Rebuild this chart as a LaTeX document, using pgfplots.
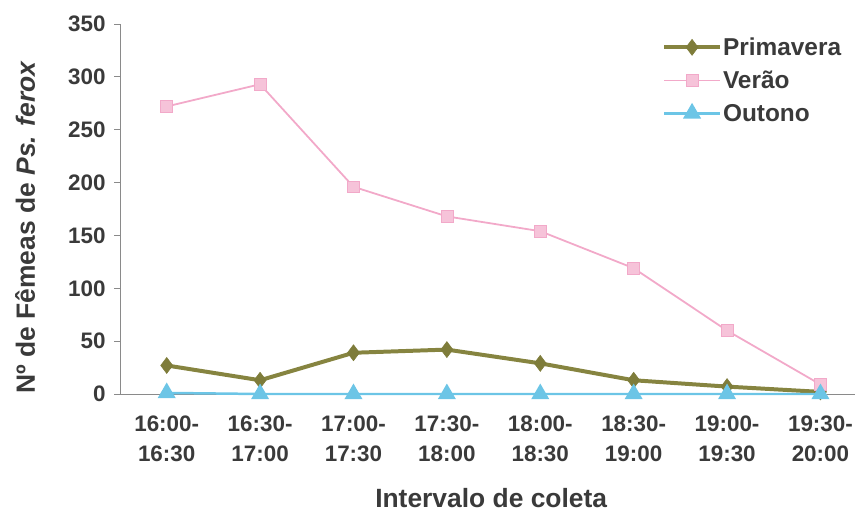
\documentclass[border=0pt]{standalone}
\usepackage{fontspec}
\setmainfont{Liberation Sans}
\usepackage{pgfplots}
\pgfplotsset{compat=1.18}
\definecolor{olv}{HTML}{868440}
\definecolor{olvf}{HTML}{7E7C3A}
\definecolor{pnk}{HTML}{F2A9C9}
\definecolor{blu}{HTML}{6CC5E6}
\definecolor{txt}{HTML}{3A3A3A}
\definecolor{axc}{HTML}{8A8A8A}
\begin{document}
\begin{tikzpicture}
\useasboundingbox (0,0) rectangle (859bp,511bp);
\begin{axis}[
  at={(120bp,117bp)}, anchor=south west,
  scale only axis, width=735bp, height=370bp,
  xmin=-0.5, xmax=7.37, ymin=0, ymax=350,
  axis lines*=left, axis line style={axc, line width=0.8pt},
  ytick={0,50,...,350}, xtick={0,...,7},
  xticklabels={{16:00-\\16:30},{16:30-\\17:00},{17:00-\\17:30},{17:30-\\18:00},{18:00-\\18:30},{18:30-\\19:00},{19:00-\\19:30},{19:30-\\20:00}},
  x tick label style={align=center, font=\fontsize{22.5}{30}\selectfont\bfseries, text=txt, yshift=-12bp},
  y tick label style={font=\fontsize{22.5}{25}\selectfont\bfseries, text=txt, xshift=-5bp},
  /pgf/number format/assume math mode=true,
  major x tick style={draw=none},
  extra x ticks={-0.5,0.5,1.5,2.5,3.5,4.5,5.5,6.5},
  extra x tick labels={},
  extra x tick style={tick style={axc, line width=0.8pt}},
  ytick style={axc, line width=0.8pt}, tick align=outside, major tick length=6bp,
  xlabel={Intervalo de coleta},
  ylabel={Nº de Fêmeas de \textit{Ps. ferox}},
  label style={font=\fontsize{26.5}{30}\selectfont\bfseries, text=txt},
  xlabel style={at={(axis description cs:0.505,-0.28)}, anchor=center},
  ylabel style={at={(axis description cs:-0.129,0.451)}, anchor=center, rotate=0},
  legend style={at={(axis cs:5.27,340)}, anchor=north west, draw=none, fill=none,
    font=\fontsize{24.5}{27}\selectfont\bfseries, text=txt, row sep=12bp,
    nodes={inner sep=1bp}},
  legend cell align=left,
  legend image code/.code={\draw[mark repeat=2,mark phase=2] plot coordinates {(0bp,0bp) (28bp,0bp) (56bp,0bp)};},
  clip=false,
]
\addplot[color=olv, line width=4pt, mark=diamond*, mark size=8pt, mark options={fill=olvf, draw=olvf, line width=0.6pt}]
  coordinates {(0,27) (1,13) (2,39) (3,42) (4,29) (5,13) (6,7) (7,2)};
\addlegendentry{Primavera}
\addplot[color=pnk, line width=1.8pt, mark=square*, mark size=6pt, mark options={fill=pnk!70, draw=pnk, line width=0.6pt}]
  coordinates {(0,272) (1,293) (2,196) (3,168) (4,154) (5,119) (6,60) (7,9)};
\addlegendentry{Verão}
\addplot[color=blu, line width=2.5pt, mark=triangle*, mark size=8pt, mark options={fill=blu, draw=blu}]
  coordinates {(0,1) (1,0) (2,0) (3,0) (4,0) (5,0) (6,0) (7,0)};
\addlegendentry{Outono}
\end{axis}
\end{tikzpicture}
\end{document}
